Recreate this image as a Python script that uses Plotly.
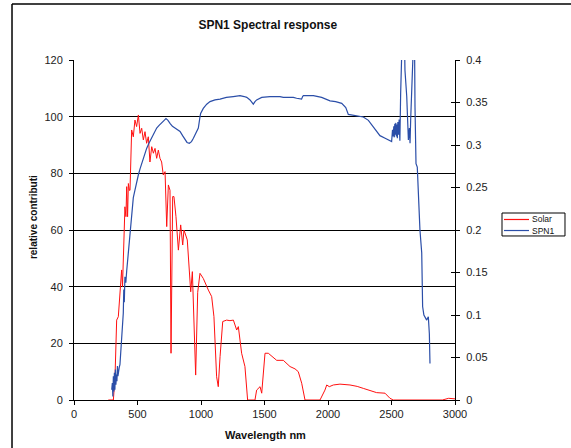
import plotly.graph_objects as go

# ---- Data ----
solar_wl = [270, 300, 310, 323, 336, 349, 362, 375, 382, 388, 401, 409, 415, 422, 428, 436, 441,
            454, 467, 480, 493, 507, 520, 533, 546, 559, 572, 585, 598, 612, 625, 638, 651, 664,
            677, 690, 703, 717, 730, 743, 756, 764, 777, 787, 803, 822, 840, 856, 866, 892, 906,
            919, 932, 945, 958, 974, 992, 1018, 1040, 1058, 1084, 1102, 1123, 1136, 1150, 1171,
            1202, 1228, 1255, 1281, 1294, 1307, 1320, 1346, 1360, 1367, 1420, 1425, 1438, 1465,
            1478, 1491, 1504, 1530, 1560, 1596, 1648, 1701, 1740, 1766, 1793, 1819, 1937, 1960,
            1976, 1990, 2010, 2042, 2094, 2173, 2230, 2278, 2330, 2383, 2449, 2488, 2514, 2700,
            2900, 2950, 3000]
solar_val = [0, 0, 0, 8.2, 28.2, 29.4, 37.6, 45.9, 40, 48.2, 68.2, 64.7, 75.3, 64.7, 76.4, 74, 74,
             95.3, 92.9, 98.8, 96.5, 100.6, 94.1, 95.9, 91.8, 94.7, 90.6, 92.9, 84, 89.4, 87.1, 88.8,
             85.3, 88.2, 85.3, 84, 79.4, 80.6, 61.2, 75.9, 74, 16.5, 71.8, 71.8, 64.7, 52.9, 61.8,
             54.7, 60, 56.5, 45.9, 38.2, 45.3, 27.1, 8.8, 38, 44.7, 42.9, 40.5, 38.8, 36.5, 29.4,
             8.2, 4.7, 15.3, 27.7, 28.2, 28, 28.2, 24.7, 25.9, 20, 16.5, 11.8, 2.4, 0, 0, 0, 3.5,
             4.7, 2.4, 10.6, 16.5, 16.5, 15.2, 14, 14, 11.8, 11, 10, 5.9, 0, 0, 2, 3.5, 5.3, 4.7,
             5.3, 5.6, 5.3, 4.8, 4.1, 3.4, 2.6, 2.4, 0.6, 0, 0, 0, 0.6, 0.4]

spn1_wl = [297, 302, 306, 310, 314, 318, 322, 326, 330, 334, 338, 342, 346, 350, 356, 362, 368,
           375, 382, 388, 392, 396, 401, 408, 415, 428, 441, 454, 467, 480, 493, 507, 520, 533,
           550, 572, 590, 612, 630, 651, 670, 690, 710, 724, 740, 756, 775, 795, 815, 835, 855,
           874, 890, 908, 925, 940, 960, 979, 992, 997, 1018, 1045, 1071, 1110, 1150, 1200, 1254,
           1307, 1340, 1360, 1386, 1400, 1412, 1425, 1438, 1478, 1543, 1622, 1648, 1701, 1727,
           1753, 1792, 1800, 1806, 1885, 1950, 2016, 2060, 2108, 2140, 2160, 2200, 2278, 2318,
           2350, 2383, 2409, 2450, 2501, 2508, 2514, 2518, 2522, 2526, 2530, 2534, 2538, 2542,
           2546, 2550, 2555, 2560, 2566, 2572, 2580, 2590, 2600, 2606, 2620, 2633, 2641, 2646,
           2651, 2659, 2672, 2680, 2685, 2693, 2703, 2711, 2724, 2738, 2745, 2755, 2764, 2777,
           2790, 2798, 2803]
spn1_val = [0.012, 0.02, 0.004, 0.028, 0.01, 0.032, 0.012, 0.036, 0.018, 0.03, 0.022, 0.04, 0.028,
            0.035, 0.038, 0.042, 0.055, 0.067, 0.085, 0.102, 0.13, 0.115, 0.145, 0.138, 0.152,
            0.173, 0.196, 0.224, 0.238, 0.247, 0.257, 0.265, 0.272, 0.278, 0.287, 0.296, 0.302,
            0.308, 0.314, 0.320, 0.323, 0.3255, 0.329, 0.331, 0.329, 0.3255, 0.322, 0.320, 0.318,
            0.316, 0.311, 0.306, 0.303, 0.302, 0.304, 0.308, 0.314, 0.320, 0.333, 0.337, 0.343,
            0.348, 0.351, 0.353, 0.354, 0.356, 0.357, 0.358, 0.357, 0.356, 0.353, 0.350, 0.348,
            0.351, 0.353, 0.356, 0.357, 0.357, 0.356, 0.356, 0.356, 0.355, 0.354, 0.357, 0.358,
            0.358, 0.356, 0.352, 0.351, 0.349, 0.344, 0.336, 0.335, 0.333, 0.329, 0.323, 0.316,
            0.311, 0.308, 0.304, 0.318, 0.31, 0.322, 0.309, 0.325, 0.312, 0.326, 0.31, 0.324,
            0.308, 0.327, 0.312, 0.33, 0.305, 0.36, 0.45, 0.46, 0.44, 0.388, 0.357, 0.306, 0.32,
            0.302, 0.33, 0.376, 0.42, 0.45, 0.345, 0.278, 0.274, 0.247, 0.2, 0.173, 0.11, 0.10,
            0.098, 0.094, 0.098, 0.078, 0.043]

x_ticks = [0, 500, 1000, 1500, 2000, 2500, 3000]
left_ticks = [0, 20, 40, 60, 80, 100, 120]
right_ticks = [0, 0.05, 0.1, 0.15, 0.2, 0.25, 0.3, 0.35, 0.4]
series_names = ["Solar", "SPN1"]

FONT = "Liberation Sans, Arial, sans-serif"
RED = "#ff1010"
BLUE = "#2b4ea8"

fig = go.Figure()
fig.add_trace(go.Scatter(x=solar_wl, y=solar_val, mode="lines", name=series_names[0],
                         line=dict(color=RED, width=1), yaxis="y"))
fig.add_trace(go.Scatter(x=spn1_wl, y=spn1_val, mode="lines", name=series_names[1],
                         line=dict(color=BLUE, width=1.2), yaxis="y2"))
# invisible trace so yaxis3 (inner half of the crossing right-axis ticks) is rendered
fig.add_trace(go.Scatter(x=[None], y=[None], yaxis="y3", showlegend=False, hoverinfo="skip"))

fig.update_layout(
    width=571, height=448,
    margin=dict(l=74, r=116, t=60, b=48, autoexpand=False),
    paper_bgcolor="white", plot_bgcolor="white",
    font=dict(family=FONT, size=11, color="#222"),
    title=dict(text="<b>SPN1 Spectral response</b>", x=0.469, xanchor="center",
               y=0.944, yanchor="middle", font=dict(size=12, color="#111")),
    xaxis=dict(range=[0, 3000], tickvals=x_ticks, showgrid=False, zeroline=False,
               showline=True, linecolor="black", linewidth=1,
               ticks="outside", ticklen=4, tickcolor="black"),
    yaxis=dict(range=[0, 120], tickvals=left_ticks, showgrid=True, gridcolor="black",
               gridwidth=1, zeroline=False, showline=True, linecolor="black", linewidth=1,
               ticks="outside", ticklen=4, tickcolor="black", ticklabelstandoff=4),
    yaxis2=dict(range=[0, 0.4], tickvals=right_ticks, overlaying="y", side="right",
                showgrid=False, zeroline=False, showline=True, linecolor="black",
                linewidth=1, ticks="outside", ticklen=4, tickcolor="black",
                ticklabelstandoff=4),
    yaxis3=dict(range=[0, 0.4], tickvals=right_ticks, overlaying="y", side="right",
                anchor="x", showgrid=False, zeroline=False, showline=False,
                showticklabels=False, ticks="inside", ticklen=4, tickcolor="black"),
    showlegend=False,
)

fig.add_annotation(text="<b>relative contributi</b>", textangle=-90, x=-0.1076, y=0.538,
                   xref="paper", yref="paper", xanchor="center", yanchor="middle",
                   showarrow=False, font=dict(size=10, color="#111"))
fig.add_annotation(text="<b>Wavelength nm</b>", x=0.502, y=-0.1044, xref="paper",
                   yref="paper", xanchor="center", yanchor="middle", showarrow=False,
                   font=dict(size=11, color="#111"))

# compact legend box (Excel-style)
fig.add_shape(type="rect", xref="paper", yref="paper", x0=1.1234, x1=1.2887,
              y0=0.4824, y1=0.55, line=dict(color="black", width=1), fillcolor="white")
for name, color, ly in zip(series_names, [RED, BLUE], [0.5309, 0.4985]):
    fig.add_shape(type="line", xref="paper", yref="paper", x0=1.1286, x1=1.1942,
                  y0=ly, y1=ly, line=dict(color=color, width=1.2))
    fig.add_annotation(text=name, x=1.1995, y=ly, xref="paper", yref="paper",
                       xanchor="left", yanchor="middle", showarrow=False, borderpad=0,
                       font=dict(size=8.5, color="#111"))

# outer chart-area frame (left and top edges visible)
fig.add_shape(type="line", xref="paper", yref="paper", x0=-0.1627, x1=-0.1627,
              y0=1.1647, y1=-0.25, line=dict(color="black", width=1.5))
fig.add_shape(type="line", xref="paper", yref="paper", x0=-0.1627, x1=1.4,
              y0=1.1647, y1=1.1647, line=dict(color="black", width=1.5))

fig.write_html("out.html", config={"displayModeBar": False},
               post_script="document.body.style.margin='0';")
